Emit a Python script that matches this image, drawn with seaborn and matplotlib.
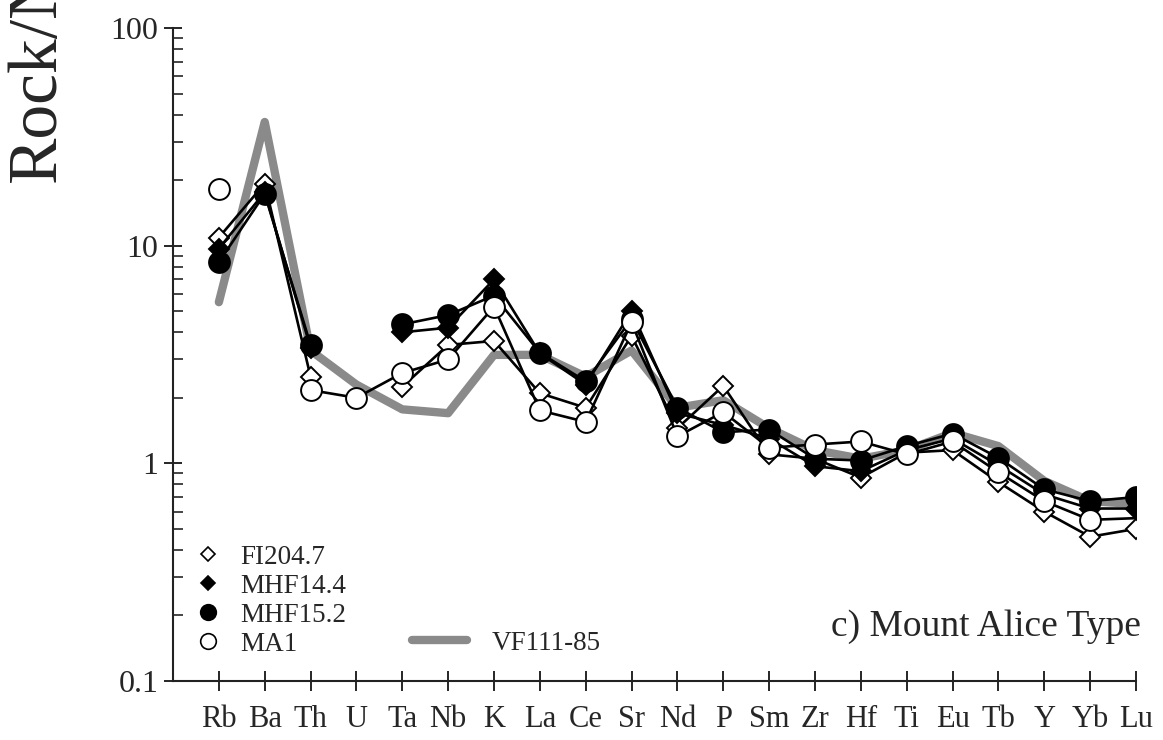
#%%
import numpy as np                           # for nan.
import pandas as pd                          # for wrapping the data.
import seaborn as sns                        # for plotting.
import matplotlib.pyplot as plt
from matplotlib.lines import Line2D
sns.set_style("ticks")                       # plain white axes with ticks.
plt.rcParams['font.family'] = ['Liberation Serif', 'DejaVu Serif']

#%%
# Normalised trace element values.
nan = np.nan
elements = ["Rb", "Ba", "Th", "U", "Ta", "Nb", "K", "La", "Ce", "Sr", "Nd",
            "P", "Sm", "Zr", "Hf", "Ti", "Eu", "Tb", "Y", "Yb", "Lu"]
fi204_7 = [10.9, 19.3, 2.5, nan, 2.25, 3.5, 3.65, 2.1, 1.8, 3.85, 1.45,
           2.27, 1.1, 1.05, 0.86, 1.12, 1.15, 0.82, 0.6, 0.46, 0.5]
mhf14_4 = [9.7, 17.6, 3.4, nan, 4.0, 4.2, 7.0, 3.2, 2.3, 5.0, 1.7,
           1.5, 1.3, 0.97, 0.92, 1.15, 1.3, 0.98, 0.72, 0.62, 0.62]
mhf15_2 = [8.4, 17.3, 3.5, nan, 4.35, 4.8, 5.9, 3.22, 2.38, 4.6, 1.8,
           1.39, 1.43, 1.05, 1.03, 1.2, 1.37, 1.06, 0.76, 0.67, 0.70]
ma1 = [18.2, nan, 2.17, 2.0, 2.6, 3.0, 5.25, 1.75, 1.55, 4.45, 1.33,
       1.72, 1.18, 1.22, 1.26, 1.1, 1.26, 0.91, 0.67, 0.55, 0.56]
vf111_85 = [5.5, 37, 3.3, 2.3, 1.77, 1.7, 3.15, 3.15, 2.5, 3.3, 1.8,
            1.95, 1.45, 1.15, 1.05, 1.15, 1.38, 1.2, 0.83, 0.67, 0.65]

data = pd.DataFrame({
    "pos": np.arange(len(elements)),
    "element": elements,
    "FI204.7": fi204_7,
    "MHF14.4": mhf14_4,
    "MHF15.2": mhf15_2,
    "MA1": ma1,
    "VF111-85": vf111_85,
})

# marker style of each sample.
styles = {
    "FI204.7": dict(marker="D", markersize=10, markerfacecolor="white"),
    "MHF14.4": dict(marker="D", markersize=10, markerfacecolor="black"),
    "MHF15.2": dict(marker="o", markersize=15, markerfacecolor="black"),
    "MA1": dict(marker="o", markersize=15, markerfacecolor="white"),
}

#%%
fig = plt.figure(figsize=(11.63, 7.40), dpi=100)
ax = fig.add_axes([173 / 1163, 1 - 681 / 740, 963 / 1163, 653 / 740])

# reference rock as a thick gray line behind the samples.
sns.lineplot(data=data, x="pos", y="VF111-85", color="#8a8a8a", linewidth=6,
             ax=ax, zorder=1)

# samples: matplotlib keeps the gaps where an element is missing.
for name, st in styles.items():
    every = None
    if name == "MA1":
        every = list(range(len(elements) - 1))   # no symbol drawn at Lu
    ax.plot(data["pos"], data[name], color="black", linewidth=1.9,
            markeredgecolor="black", markeredgewidth=1.4, markevery=every,
            zorder=2, **st)

ax.set_yscale("log")
ax.set_ylim(0.1, 100)
ax.set_xlim(-1, len(elements) - 1)
ax.set_xticks(data["pos"])
ax.set_xticklabels(elements, fontsize=22)
ax.set_yticks([0.1, 1, 10, 100])
ax.set_yticklabels(["0.1", "1", "10", "100"], fontsize=23)
ax.set_xlabel("")
ax.set_ylabel("")
sns.despine(ax=ax)
for s in ["left", "bottom"]:
    ax.spines[s].set_linewidth(1.5)
    ax.spines[s].set_color("#222222")
ax.tick_params(axis="x", which="major", direction="inout", length=14,
               width=1.4, pad=10)
ax.tick_params(axis="y", which="major", direction="inout", length=13,
               width=1.4, pad=4)
ax.tick_params(axis="y", which="minor", direction="in", length=7, width=1.2)

#%%
# legend: symbols on the left, reference line on its own.
handles = [Line2D([], [], color="black", linestyle="none",
                  markeredgecolor="black", markeredgewidth=1.2,
                  **dict(st, markersize=st["markersize"] * 0.75))
           for st in styles.values()]
leg = ax.legend(handles, list(styles.keys()), loc="center left",
                bbox_to_anchor=(0.0223, 0.123), frameon=False, fontsize=19.5,
                handlelength=1, handletextpad=0.68, labelspacing=0.146,
                borderpad=0, borderaxespad=0)
ax.add_artist(leg)
ax.legend([Line2D([], [], color="#8a8a8a", linewidth=6)], ["VF111-85"],
          loc="center left", bbox_to_anchor=(0.248, 0.058), frameon=False,
          fontsize=19.5, handlelength=2.03, handletextpad=0.92,
          borderpad=0, borderaxespad=0)

ax.text(1.005, 0.083, "c) Mount Alice Type", transform=ax.transAxes,
        ha="right", va="center", fontsize=27)

# y label, cut off at the top of the figure as in the original.
fig.text(38 / 1163, 1 - 182 / 740, "Rock/N", rotation=90, ha="center",
         va="bottom", fontsize=50)

plt.savefig("out.png", dpi=100)
